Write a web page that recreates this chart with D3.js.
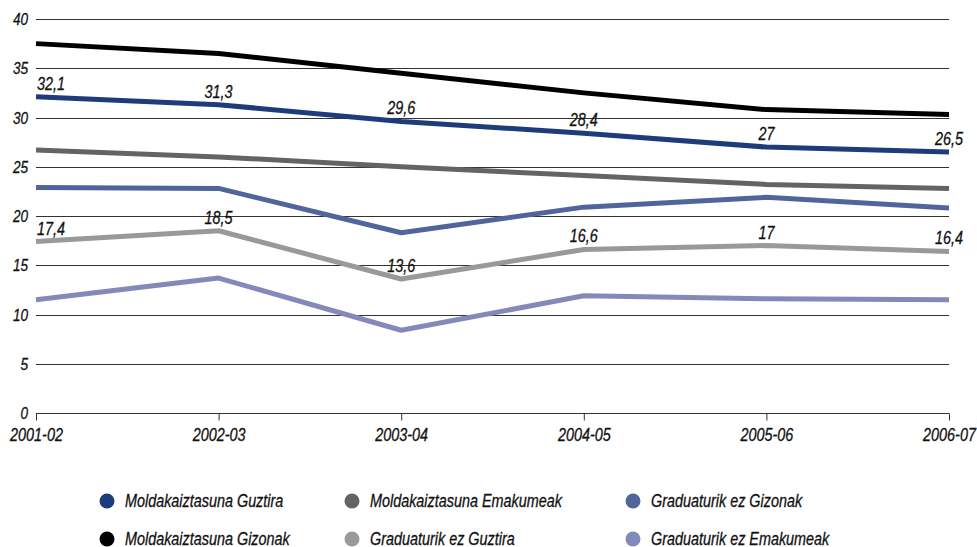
<!DOCTYPE html>
<html>
<head>
<meta charset="utf-8">
<script src="https://cdn.jsdelivr.net/npm/d3@7"></script>
<style>
  body { margin: 0; background: #fff; }
  text { font-family: "Liberation Sans", Arial, sans-serif; font-style: italic; fill: #111; stroke: #111; stroke-width: 0.3px; }
</style>
</head>
<body>
<div id="chartDiv"></div>
<script>
var years = ["2001-02", "2002-03", "2003-04", "2004-05", "2005-06", "2006-07"];

var moldGuztira = [32.1, 31.3, 29.6, 28.4, 27, 26.5];
var moldGizonak = [37.5, 36.5, 34.5, 32.5, 30.8, 30.3];
var moldEmakumeak = [26.7, 26.0, 25.0, 24.1, 23.2, 22.8];
var gradGizonak = [22.9, 22.8, 18.3, 20.9, 21.9, 20.8];
var gradGuztira = [17.4, 18.5, 13.6, 16.6, 17, 16.4];
var gradEmakumeak = [11.5, 13.7, 8.4, 11.9, 11.6, 11.5];

var yTicks = [0, 5, 10, 15, 20, 25, 30, 35, 40];

// drawing order + which series get value labels
var series = [
  {name: "Moldakaiztasuna Emakumeak", values: moldEmakumeak, color: "#646464", labels: false},
  {name: "Graduaturik ez Gizonak", values: gradGizonak, color: "#52649c", labels: false},
  {name: "Graduaturik ez Emakumeak", values: gradEmakumeak, color: "#8389b9", labels: false},
  {name: "Graduaturik ez Guztira", values: gradGuztira, color: "#999999", labels: true},
  {name: "Moldakaiztasuna Gizonak", values: moldGizonak, color: "#000000", labels: false},
  {name: "Moldakaiztasuna Guztira", values: moldGuztira, color: "#1e3b7b", labels: true}
];

var legendItems = [
  {name: "Moldakaiztasuna Guztira", color: "#1e3b7b", col: 0, row: 0},
  {name: "Moldakaiztasuna Emakumeak", color: "#646464", col: 1, row: 0},
  {name: "Graduaturik ez Gizonak", color: "#52649c", col: 2, row: 0},
  {name: "Moldakaiztasuna Gizonak", color: "#000000", col: 0, row: 1},
  {name: "Graduaturik ez Guztira", color: "#999999", col: 1, row: 1},
  {name: "Graduaturik ez Emakumeak", color: "#8389b9", col: 2, row: 1}
];

var SQ = 0.8; // horizontal squeeze to fake a condensed face

var svg = d3.select("#chartDiv").append("svg")
    .attr("width", 977)
    .attr("height", 547);

var margin = {top: 19, left: 36, right: 28, bottom: 134};
var width = 977 - margin.left - margin.right,
    height = 547 - margin.top - margin.bottom;

var chart = svg.append("g").attr("transform", "translate(" + margin.left + "," + margin.top + ")");

var x = d3.scalePoint().domain(years).range([0, width]);
var y = d3.scaleLinear().domain([0, 40]).range([height, 0]);

function at(px, py) { return "translate(" + px + "," + py + ") scale(" + SQ + ",1)"; }

// gridlines
chart.append("g").selectAll("line").data(yTicks.slice(1)).enter()
  .append("line")
  .attr("x1", 0).attr("x2", width)
  .attr("y1", function(d) { return Math.round(y(d)) + 0.5; })
  .attr("y2", function(d) { return Math.round(y(d)) + 0.5; })
  .attr("stroke", "#333").attr("stroke-width", 1);

// y labels
chart.append("g").selectAll("text").data(yTicks).enter()
  .append("text")
  .attr("transform", function(d) { return at(-8, y(d) + 6); })
  .attr("text-anchor", "end")
  .attr("font-size", 17)
  .text(function(d) { return d; });

// x axis
var xAxis = d3.axisBottom(x).tickSize(7).tickPadding(8);
var xg = chart.append("g")
  .attr("transform", "translate(0," + (Math.round(height) + 0.5) + ")")
  .call(xAxis);
xg.select(".domain").attr("stroke", "#333").attr("d", "M0,0H" + width);
xg.selectAll(".tick line").attr("stroke", "#333");
xg.selectAll(".tick text")
  .attr("font-size", 18)
  .attr("font-family", null)
  .attr("fill", "#111")
  .attr("transform", "scale(" + SQ + ",1)");

var line = d3.line()
  .x(function(d, i) { return x(years[i]); })
  .y(function(d) { return y(d); });

chart.append("g").selectAll("path").data(series).enter()
  .append("path")
  .attr("d", function(s) { return line(s.values); })
  .attr("fill", "none")
  .attr("stroke", function(s) { return s.color; })
  .attr("stroke-width", 5)
  .attr("stroke-linejoin", "round");

// value labels
series.filter(function(s) { return s.labels; }).forEach(function(s) {
  chart.append("g").selectAll("text").data(s.values).enter()
    .append("text")
    .attr("transform", function(d, i) { return at(x(years[i]) + (i === 0 ? 15 : 0), y(d) - 7); })
    .attr("text-anchor", "middle")
    .attr("font-size", 18)
    .text(function(d) { return String(d).replace(".", ","); });
});

// legend
var colX = [107, 352, 633];
var rowY = [501, 539];
var legend = svg.append("g").selectAll("g").data(legendItems).enter()
  .append("g")
  .attr("transform", function(d) { return "translate(" + colX[d.col] + "," + rowY[d.row] + ")"; });
legend.append("circle").attr("r", 7.5).attr("fill", function(d) { return d.color; });
legend.append("text")
  .attr("transform", at(18, 6))
  .attr("font-size", 18)
  .text(function(d) { return d.name; });
</script>
</body>
</html>
